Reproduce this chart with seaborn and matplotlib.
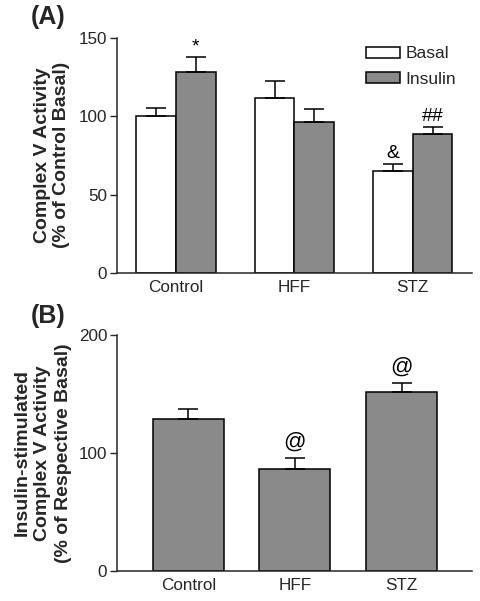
import matplotlib
matplotlib.use("Agg")
import matplotlib.pyplot as plt
import seaborn as sns
import pandas as pd
from matplotlib.patches import Patch

sns.set_style("ticks")
plt.rcParams['font.family'] = ['Liberation Sans', 'DejaVu Sans']

# ---- data ----
groups = ["Control", "HFF", "STZ"]
conditions = ["Basal", "Insulin"]
basal_vals = [100.0, 111.4, 64.9]
basal_err = [5.5, 11.0, 4.3]
insulin_vals = [128.4, 96.5, 88.5]
insulin_err = [9.1, 8.3, 4.4]
a_marks_basal = ["", "", "&"]
a_marks_insulin = ["*", "", "##"]

ratio_vals = [128.4, 86.3, 151.6]
ratio_err = [8.8, 9.6, 7.7]
b_marks = ["", "@", "@"]

a_ticks = [0, 50, 100, 150]
b_ticks = [0, 100, 200]

GRAY = "#8a8a8a"
TICK_FS = 12.3
LABEL_FS = 14

fig = plt.figure(figsize=(4.81, 6.01), dpi=100)
axA = fig.add_axes([0.243, 0.546, 0.738, 0.391])
axB = fig.add_axes([0.243, 0.0504, 0.738, 0.3926])

# ---- Panel A ----
dfA = pd.DataFrame({
    "group": groups * 2,
    "cond": [conditions[0]] * 3 + [conditions[1]] * 3,
    "val": basal_vals + insulin_vals,
})
sns.barplot(data=dfA, x="group", y="val", hue="cond", order=groups,
            hue_order=conditions, palette={"Basal": "white", "Insulin": GRAY},
            width=0.67, errorbar=None, edgecolor="black", linewidth=1.1,
            ax=axA, legend=False, saturation=1)

errsA = {"Basal": basal_err, "Insulin": insulin_err}
valsA = {"Basal": basal_vals, "Insulin": insulin_vals}
marksA = {"Basal": a_marks_basal, "Insulin": a_marks_insulin}
for cont, cond in zip(axA.containers, conditions):
    for i, bar in enumerate(cont):
        xc = bar.get_x() + bar.get_width() / 2
        v = valsA[cond][i]
        e = errsA[cond][i]
        axA.errorbar([xc], [v], yerr=[[0], [e]], fmt="none", ecolor="black",
                     elinewidth=1.1, capsize=7, capthick=1.1, zorder=1)
        m = marksA[cond][i]
        if m:
            axA.text(xc, v + e + 1.5, m, ha="center", va="bottom",
                     fontsize=14, color="black")

axA.set_xlim(-0.5, 2.5)
axA.set_ylim(0, 150)
axA.set_yticks(a_ticks)
axA.set_xlabel("")
axA.set_ylabel("Complex V Activity\n(% of Control Basal)", fontsize=LABEL_FS,
               fontweight="bold", labelpad=6, linespacing=1.2)
axA.tick_params(axis="x", length=0, labelsize=TICK_FS, pad=5)
axA.tick_params(axis="y", length=5, width=1, labelsize=TICK_FS, pad=2)
sns.despine(ax=axA)
for s in ["left", "bottom"]:
    axA.spines[s].set_linewidth(1.1)

handles = [Patch(facecolor="white", edgecolor="black", linewidth=1.1, label="Basal"),
           Patch(facecolor=GRAY, edgecolor="black", linewidth=1.1, label="Insulin")]
axA.legend(handles=handles, loc="upper right", bbox_to_anchor=(1.0, 1.03),
           frameon=False, fontsize=12.5, handlelength=2.0, handleheight=0.6,
           handletextpad=0.3, labelspacing=0.6)

# ---- Panel B ----
dfB = pd.DataFrame({"group": groups, "val": ratio_vals})
sns.barplot(data=dfB, x="group", y="val", order=groups, color=GRAY,
            width=0.667, errorbar=None, edgecolor="black", linewidth=1.1,
            ax=axB, saturation=1)
for i, bar in enumerate(axB.patches):
    xc = bar.get_x() + bar.get_width() / 2
    v = ratio_vals[i]
    e = ratio_err[i]
    axB.errorbar([xc], [v], yerr=[[0], [e]], fmt="none", ecolor="black",
                 elinewidth=1.1, capsize=7, capthick=1.1, zorder=1)
    if b_marks[i]:
        axB.text(xc, v + e + 4, b_marks[i], ha="center", va="bottom",
                 fontsize=16, color="black")

axB.set_xlim(-0.67, 2.66)
axB.set_ylim(0, 200)
axB.set_yticks(b_ticks)
axB.set_xlabel("")
axB.set_ylabel("Insulin-stimulated\nComplex V Activity\n(% of Respective Basal)",
               fontsize=LABEL_FS, fontweight="bold", labelpad=5, linespacing=1.25)
axB.tick_params(axis="x", length=0, labelsize=TICK_FS, pad=5)
axB.tick_params(axis="y", length=5, width=1, labelsize=TICK_FS, pad=2)
sns.despine(ax=axB)
for s in ["left", "bottom"]:
    axB.spines[s].set_linewidth(1.1)

fig.text(31 / 481, 1 - 5 / 601, "(A)", fontsize=18, fontweight="bold",
         ha="left", va="top")
fig.text(31 / 481, 1 - 304 / 601, "(B)", fontsize=18, fontweight="bold",
         ha="left", va="top")

fig.savefig("out.png", dpi=100)
